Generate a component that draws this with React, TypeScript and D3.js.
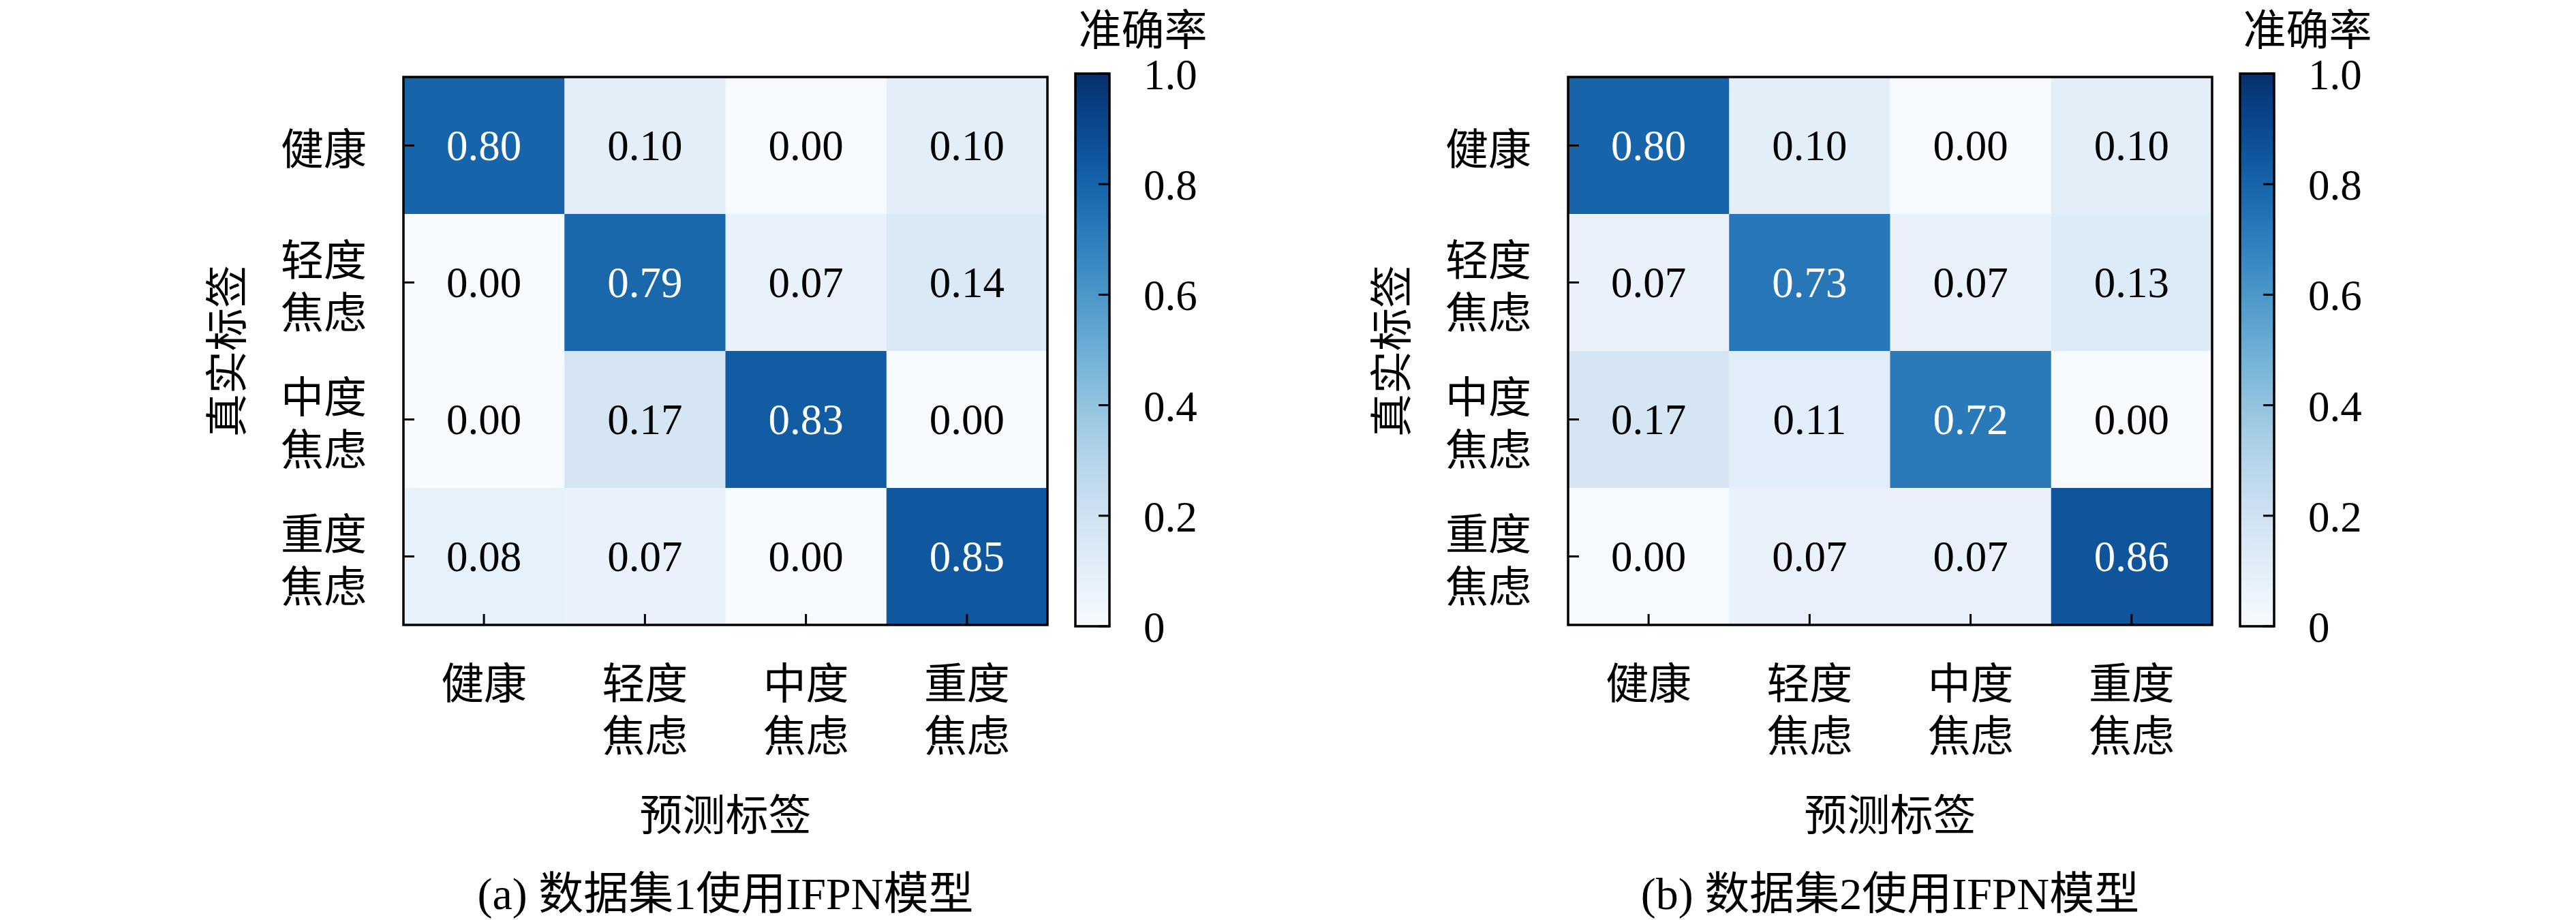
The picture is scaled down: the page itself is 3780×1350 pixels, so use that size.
import React from "react";
import * as d3 from "d3";

// category labels (two lines where the label wraps)
const classes = ["健康", "轻度焦虑", "中度焦虑", "重度焦虑"];
const classLines = [["健康"], ["轻度", "焦虑"], ["中度", "焦虑"], ["重度", "焦虑"]];

// confusion matrices, rows = true label, cols = predicted label
const matrixA = [
  [0.8, 0.1, 0.0, 0.1],
  [0.0, 0.79, 0.07, 0.14],
  [0.0, 0.17, 0.83, 0.0],
  [0.08, 0.07, 0.0, 0.85],
];
const matrixB = [
  [0.8, 0.1, 0.0, 0.1],
  [0.07, 0.73, 0.07, 0.13],
  [0.17, 0.11, 0.72, 0.0],
  [0.0, 0.07, 0.07, 0.86],
];

const cbTicks = [0, 0.2, 0.4, 0.6, 0.8, 1.0];
const cbTickLabels = ["0", "0.2", "0.4", "0.6", "0.8", "1.0"];

const captions = ["(a) 数据集1使用IFPN模型", "(b) 数据集2使用IFPN模型"];
const xTitle = "预测标签";
const yTitle = "真实标签";
const cbTitle = "准确率";

const W = 3780;
const H = 1350;
const FS = 63;
const numFont = "'Liberation Serif', 'Times New Roman', serif";
const cjkFont = "'Noto Sans CJK SC', sans-serif";
const mixFont = "'Liberation Serif', 'Noto Sans CJK SC', serif";

// geometry of one panel (left panel), the second is shifted
const hm = { x: 592, y: 113, w: 945, h: 804 };
const cb = { x: 1578, w: 50, top: 108, bottom: 919 };
const panelShift = 1709;

const color = d3.scaleSequential(d3.interpolateBlues).domain([0, 1]);

function Panel({ dx, matrix, caption, id }: { dx: number; matrix: number[][]; caption: string; id: string }) {
  const x = d3.scaleBand().domain(classes).range([hm.x + dx, hm.x + dx + hm.w]);
  const y = d3.scaleBand().domain(classes).range([hm.y, hm.y + hm.h]);
  const cbScale = d3.scaleLinear().domain([0, 1]).range([cb.bottom, cb.top]);
  const cbx = cb.x + dx;
  const stops = d3.range(0, 1.0001, 0.05);
  const tickLen = 16;
  const lineGap = 77;

  return (
    <g>
      <defs>
        <linearGradient id={id} x1="0" y1="1" x2="0" y2="0">
          {stops.map((s) => (
            <stop key={s} offset={s} stopColor={color(s)} />
          ))}
        </linearGradient>
      </defs>

      {/* cells */}
      {matrix.map((row, i) =>
        row.map((v, j) => (
          <rect
            key={`c${i}-${j}`}
            x={x(classes[j])}
            y={y(classes[i])}
            width={x.bandwidth() + 0.5}
            height={y.bandwidth() + 0.5}
            fill={color(v)}
          />
        ))
      )}
      {matrix.map((row, i) =>
        row.map((v, j) => (
          <text
            key={`t${i}-${j}`}
            x={(x(classes[j]) as number) + x.bandwidth() / 2}
            y={(y(classes[i]) as number) + y.bandwidth() / 2}
            textAnchor="middle"
            dominantBaseline="central"
            fontFamily={numFont}
            fontSize={FS}
            fill={v > 0.5 ? "#ffffff" : "#000000"}
          >
            {v.toFixed(2)}
          </text>
        ))
      )}

      {/* frame */}
      <rect x={hm.x + dx} y={hm.y} width={hm.w} height={hm.h} fill="none" stroke="#000" strokeWidth={3.5} />

      {/* ticks */}
      {classes.map((c) => (
        <g key={`tk${c}`}>
          <line
            x1={hm.x + dx}
            x2={hm.x + dx + tickLen}
            y1={(y(c) as number) + y.bandwidth() / 2}
            y2={(y(c) as number) + y.bandwidth() / 2}
            stroke="#000"
            strokeWidth={3}
          />
          <line
            x1={(x(c) as number) + x.bandwidth() / 2}
            x2={(x(c) as number) + x.bandwidth() / 2}
            y1={hm.y + hm.h}
            y2={hm.y + hm.h - tickLen}
            stroke="#000"
            strokeWidth={3}
          />
        </g>
      ))}

      {/* y tick labels, one text per line */}
      {classes.map((c, i) => {
        const lines = classLines[i];
        const cy = (y(c) as number) + y.bandwidth() / 2;
        return lines.map((l, k) => (
          <text
            key={`yl${c}${k}`}
            x={hm.x + dx - 54}
            y={cy + (k - (lines.length - 1) / 2) * lineGap}
            fontFamily={cjkFont}
            fontSize={FS}
            textAnchor="end"
            dominantBaseline="central"
          >
            {l}
          </text>
        ));
      })}

      {/* x tick labels */}
      {classes.map((c, i) => {
        const lines = classLines[i];
        const cx = (x(c) as number) + x.bandwidth() / 2;
        return lines.map((l, k) => (
          <text
            key={`xl${c}${k}`}
            x={cx}
            y={997 + k * lineGap}
            fontFamily={cjkFont}
            fontSize={FS}
            textAnchor="middle"
            dominantBaseline="central"
          >
            {l}
          </text>
        ));
      })}

      {/* axis titles */}
      <text
        x={hm.x + dx + hm.w / 2}
        y={1190}
        textAnchor="middle"
        dominantBaseline="central"
        fontFamily={cjkFont}
        fontSize={FS}
      >
        {xTitle}
      </text>
      <text
        transform={`translate(${327 + dx},${hm.y + hm.h / 2}) rotate(-90)`}
        textAnchor="middle"
        dominantBaseline="central"
        fontFamily={cjkFont}
        fontSize={FS}
      >
        {yTitle}
      </text>

      {/* caption */}
      <text
        x={hm.x + dx + hm.w / 2}
        y={1311}
        textAnchor="middle"
        dominantBaseline="central"
        fontFamily={mixFont}
        fontSize={66}
      >
        {caption}
      </text>

      {/* colorbar */}
      <rect x={cbx} y={cb.top} width={cb.w} height={cb.bottom - cb.top} fill={`url(#${id})`} />
      {cbTicks.map((t, k) => (
        <g key={`cb${k}`}>
          <line x1={cbx + cb.w} x2={cbx + cb.w - tickLen} y1={cbScale(t)} y2={cbScale(t)} stroke="#000" strokeWidth={3} />
          <text
            x={cbx + cb.w + 50}
            y={cbScale(t) + 2}
            dominantBaseline="central"
            fontFamily={numFont}
            fontSize={FS}
          >
            {cbTickLabels[k]}
          </text>
        </g>
      ))}
      <rect x={cbx} y={cb.top} width={cb.w} height={cb.bottom - cb.top} fill="none" stroke="#000" strokeWidth={3.5} />
      <text
        x={cbx + 99}
        y={38}
        textAnchor="middle"
        dominantBaseline="central"
        fontFamily={cjkFont}
        fontSize={FS}
      >
        {cbTitle}
      </text>
    </g>
  );
}

export default function App() {
  return (
    <div style={{ position: "absolute", left: 0, top: 0 }}>
      <svg width={W} height={H} style={{ display: "block", background: "#fff" }}>
        <rect width={W} height={H} fill="#fff" />
        <Panel dx={0} matrix={matrixA} caption={captions[0]} id="cbA" />
        <Panel dx={panelShift} matrix={matrixB} caption={captions[1]} id="cbB" />
      </svg>
    </div>
  );
}
